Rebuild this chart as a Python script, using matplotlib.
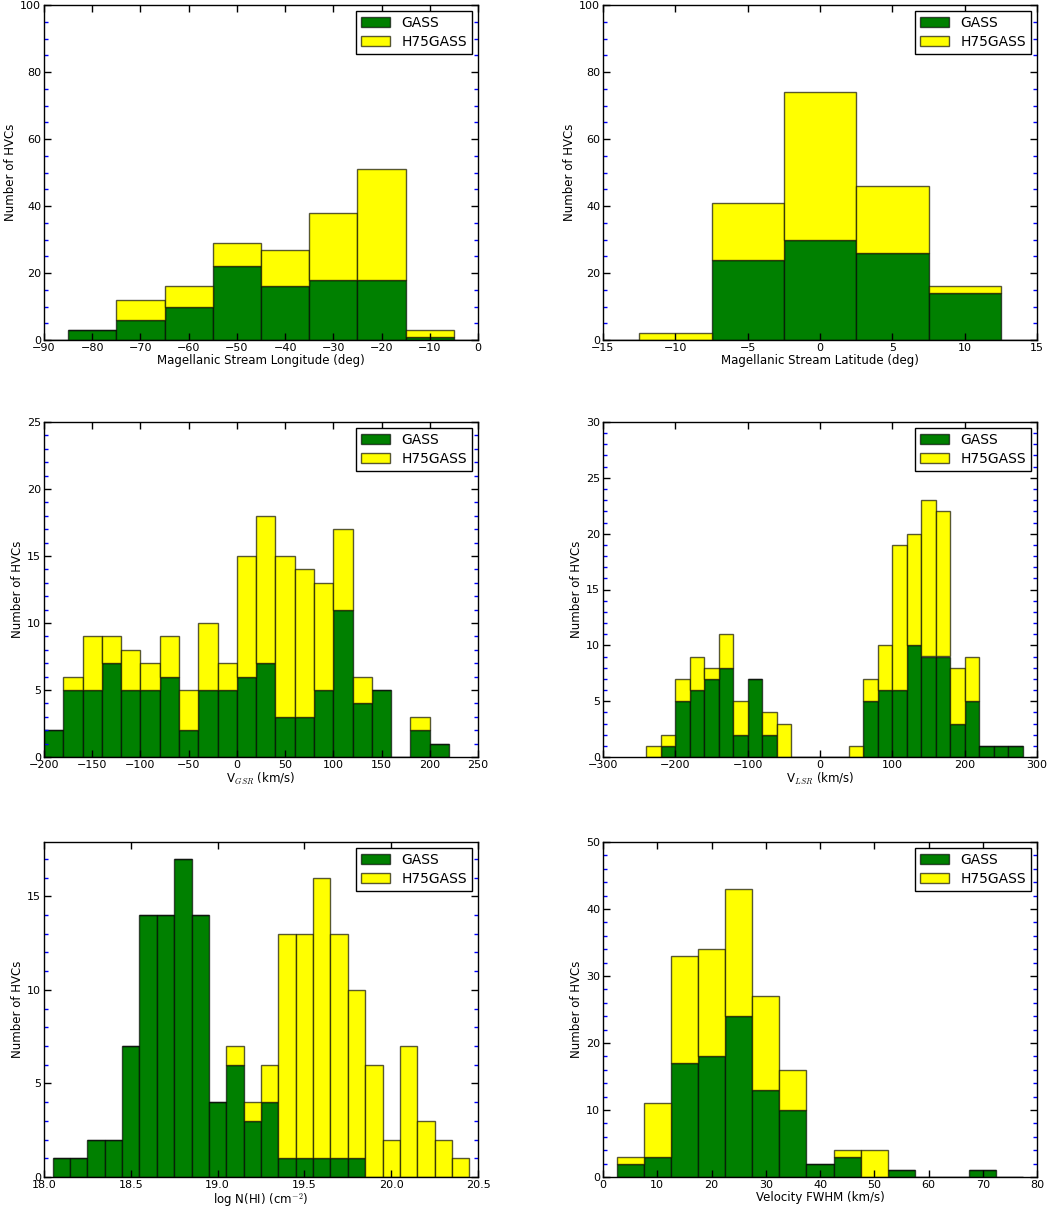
import numpy as np
import matplotlib
matplotlib.use("Agg")
import matplotlib.pyplot as plt
from matplotlib.ticker import MultipleLocator

plt.rcParams["font.family"] = ["DejaVu Sans"]
plt.rcParams["mathtext.fontset"] = "cm"

# ---- data (counts per bin) ----
# Magellanic Stream longitude, bins of 10 deg
lon_edges = np.arange(-95, 6, 10)
lon_gass = [0, 3, 6, 10, 22, 16, 18, 18, 1, 0]
lon_h75 = [0, 0, 6, 6, 7, 11, 20, 33, 2, 0]

# Magellanic Stream latitude, bins of 5 deg
lat_edges = np.arange(-17.5, 18, 5)
lat_gass = [0, 0, 24, 30, 26, 14, 0]
lat_h75 = [0, 2, 17, 44, 20, 2, 0]

# V_GSR, bins of 20 km/s
vgsr_edges = np.arange(-200, 221, 20)
vgsr_gass = [2, 5, 5, 7, 5, 5, 6, 2, 5, 5, 6, 7, 3, 3, 5, 11, 4, 5, 0, 2, 1]
vgsr_h75 = [0, 1, 4, 2, 3, 2, 3, 3, 5, 2, 9, 11, 12, 11, 8, 6, 2, 0, 0, 1, 0]

# V_LSR, bins of 20 km/s
vlsr_edges = np.arange(-240, 281, 20)
vlsr_gass = [0, 1, 5, 6, 7, 8, 2, 7, 2, 0, 0, 0, 0, 0, 0,
             5, 6, 6, 10, 9, 9, 3, 5, 1, 1, 1]
vlsr_h75 = [1, 1, 2, 3, 1, 3, 3, 0, 2, 3, 0, 0, 0, 0, 1,
            2, 4, 13, 10, 14, 13, 5, 4, 0, 0, 0]

# log N(HI), bins of 0.1 dex
nhi_edges = np.round(np.arange(18.05, 20.46, 0.1), 2)
nhi_gass = [1, 1, 2, 2, 7, 14, 14, 17, 14, 4, 6, 3, 4,
            1, 1, 1, 1, 1, 0, 0, 0, 0, 0, 0]
nhi_h75 = [0, 0, 0, 0, 0, 0, 0, 0, 0, 0, 1, 1, 2,
           12, 12, 15, 12, 9, 6, 2, 7, 3, 2, 1]

# velocity FWHM, bins of 5 km/s
fwhm_edges = np.arange(2.5, 78, 5)
fwhm_gass = [2, 3, 17, 18, 24, 13, 10, 2, 3, 0, 1, 0, 0, 1, 0]
fwhm_h75 = [1, 8, 16, 16, 19, 14, 6, 0, 1, 4, 0, 0, 0, 0, 0]

panels = [
    (lon_edges, lon_gass, lon_h75, (-90, 0), (0, 100), 20, 5,
     "Magellanic Stream Longitude (deg)"),
    (lat_edges, lat_gass, lat_h75, (-15, 15), (0, 100), 20, 5,
     "Magellanic Stream Latitude (deg)"),
    (vgsr_edges, vgsr_gass, vgsr_h75, (-200, 250), (0, 25), 5, 1,
     r"V$_{GSR}$ (km/s)"),
    (vlsr_edges, vlsr_gass, vlsr_h75, (-300, 300), (0, 30), 5, 1,
     r"V$_{LSR}$ (km/s)"),
    (nhi_edges, nhi_gass, nhi_h75, (18.0, 20.5), (0, 17.9), 5, 1,
     r"log N(HI) (cm$^{-2}$)"),
    (fwhm_edges, fwhm_gass, fwhm_h75, (0, 80), (0, 50), 10, 2,
     "Velocity FWHM (km/s)"),
]

fig = plt.figure(figsize=(10.5, 12.15), dpi=100)
W, H = 1050.0, 1215.0
lefts = [44, 603]
tops = [5, 422, 842]
aw, ah = 434, 335

edge = (0, 0, 0, 0.65)
for i, (edges, gass, h75, xlim, ylim, ymaj, ymin, xlabel) in enumerate(panels):
    col, row = i % 2, i // 2
    ax = fig.add_axes([lefts[col] / W, 1 - (tops[row] + ah) / H, aw / W, ah / H])
    widths = np.diff(edges)
    ax.bar(edges[:-1], gass, width=widths, align="edge", color="#008000",
           edgecolor=edge, linewidth=1.0, label="GASS")
    ax.bar(edges[:-1], h75, width=widths, bottom=gass, align="edge",
           color="#ffff00", edgecolor=edge, linewidth=1.0, label="H75GASS")
    ax.set_xlim(*xlim)
    ax.set_ylim(*ylim)
    ax.yaxis.set_major_locator(MultipleLocator(ymaj))
    ax.yaxis.set_minor_locator(MultipleLocator(ymin))
    ax.tick_params(which="major", direction="in", length=5, width=1,
                   top=True, right=True, labelsize=8, color="black", pad=2)
    ax.tick_params(axis="y", which="minor", direction="in", length=3,
                   width=1, left=True, right=True, color="blue")
    ax.tick_params(axis="x", which="minor", bottom=False, top=False)
    ax.set_xlabel(xlabel, fontsize=8.5, labelpad=1)
    ax.set_ylabel("Number of HVCs", fontsize=8.5, labelpad=2)
    for sp in ax.spines.values():
        sp.set_linewidth(1.0)
    leg = ax.legend(loc="upper right", fontsize=10, fancybox=False,
                    framealpha=1, edgecolor="black", borderaxespad=0.45,
                    handlelength=2.1, handleheight=0.75, handletextpad=0.8,
                    labelspacing=0.35, borderpad=0.35)
    leg.get_frame().set_linewidth(1.0)

fig.savefig("out.png", dpi=100, facecolor="white")
